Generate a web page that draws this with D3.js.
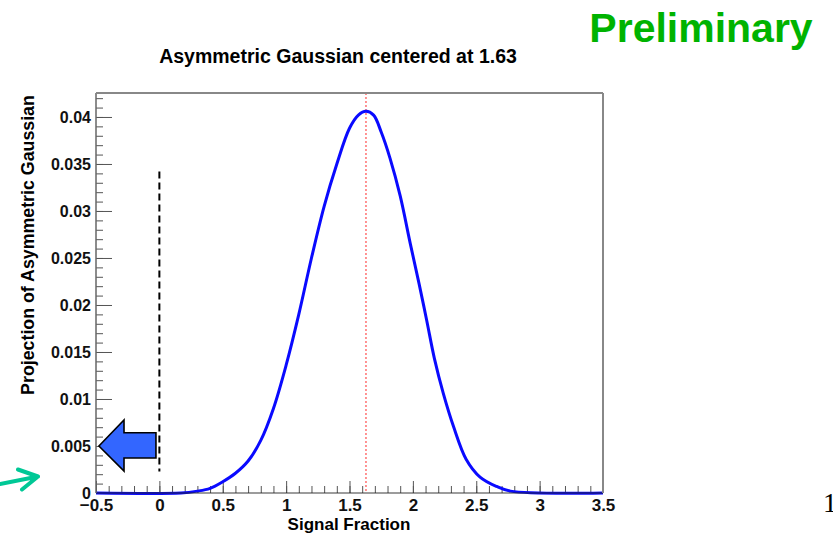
<!DOCTYPE html>
<html lang="en">
<head>
<meta charset="UTF-8" />
<title>Asymmetric Gaussian</title>
<script src="https://cdn.jsdelivr.net/npm/d3@7/dist/d3.min.js"></script>
<style>
  body { margin: 0; background: #fff; }
  text { font-family: "Liberation Sans", Arial, Helvetica, sans-serif; font-weight: bold; }
  .axis path { display: none; }
  .axis line { stroke: #555; }
  .axis text { fill: #111; }
</style>
</head>
<body>
<script>
// signal fraction (x) and projection values
var fraction = [-0.5, 0.17, 0.3, 0.4, 0.5, 0.6, 0.7, 0.8, 0.9, 1.0, 1.1, 1.2, 1.3, 1.4, 1.5,
                1.57, 1.63, 1.69, 1.75, 1.82, 1.9, 1.98, 2.05, 2.11, 2.17, 2.24, 2.32, 2.42,
                2.53, 2.66, 2.77, 3.5];
var projection = [0, 0, 0.0002, 0.0005, 0.0012, 0.0021, 0.0034, 0.0056, 0.009, 0.0136, 0.019,
                  0.025, 0.0305, 0.035, 0.0388, 0.0402, 0.0406, 0.0402, 0.0384, 0.0356, 0.0316,
                  0.0265, 0.0222, 0.0183, 0.0143, 0.0106, 0.0071, 0.0036, 0.0017, 0.0007, 0.0002, 0];

var xTicks = [-0.5, 0, 0.5, 1, 1.5, 2, 2.5, 3, 3.5];
var yTicks = [0, 0.005, 0.01, 0.015, 0.02, 0.025, 0.03, 0.035, 0.04];
var center = 1.63;
var cutLine = [0.0023, 0.0342];   // dashed line at x=0, from/to

var width = 833, height = 533;
var margin = { top: 93, right: 230, bottom: 40, left: 96 };

var svg = d3.select("body").append("svg")
  .attr("width", width)
  .attr("height", height);

svg.append("rect").attr("width", width).attr("height", height).attr("fill", "#fff");

var xScale = d3.scaleLinear()
  .domain([-0.5, 3.5])
  .range([margin.left, width - margin.right]);

var yScale = d3.scaleLinear()
  .domain([0, 0.04255])
  .range([height - margin.bottom, margin.top]);

var x0 = xScale.range()[0], x1 = xScale.range()[1];
var y0 = yScale.range()[0], y1 = yScale.range()[1];

// minor ticks
svg.append("g")
  .attr("class", "axis")
  .attr("transform", "translate(0," + y0 + ")")
  .call(d3.axisBottom(xScale).tickValues(d3.range(-0.5, 3.5001, 0.1)).tickSize(-7).tickFormat(""));
svg.append("g")
  .attr("class", "axis")
  .attr("transform", "translate(" + x0 + ",0)")
  .call(d3.axisLeft(yScale).tickValues(d3.range(0, 0.0425, 0.001)).tickSize(-7).tickFormat(""));

// major ticks + labels
svg.append("g")
  .attr("class", "axis")
  .attr("transform", "translate(0," + y0 + ")")
  .call(d3.axisBottom(xScale).tickValues(xTicks).tickSize(-12).tickPadding(6).tickFormat(d3.format("")))
  .selectAll("text").style("font-size", "17px");
svg.append("g")
  .attr("class", "axis")
  .attr("transform", "translate(" + x0 + ",0)")
  .call(d3.axisLeft(yScale).tickValues(yTicks).tickSize(-16).tickPadding(5).tickFormat(d3.format("")))
  .selectAll("text").style("font-size", "16px");

// red dotted line at the centre
svg.append("line")
  .attr("x1", xScale(center)).attr("x2", xScale(center))
  .attr("y1", y1).attr("y2", y0)
  .attr("stroke", "#ff5a5a")
  .attr("stroke-width", 1.3)
  .attr("stroke-dasharray", "2,2");

// the curve
var line = d3.line()
  .x(function(d, i) { return xScale(fraction[i]); })
  .y(function(d) { return yScale(d); })
  .curve(d3.curveCatmullRom.alpha(0.5));

svg.append("path")
  .datum(projection)
  .attr("d", line)
  .attr("fill", "none")
  .attr("stroke", "#0a0aff")
  .attr("stroke-width", 3);

// frame
svg.append("line").attr("x1", x0).attr("x2", x1).attr("y1", y0).attr("y2", y0)
  .attr("stroke", "#222").attr("stroke-opacity", 0.6).attr("stroke-width", 1.5);
svg.append("line").attr("x1", x0).attr("x2", x0).attr("y1", y0).attr("y2", y1)
  .attr("stroke", "#666").attr("stroke-width", 1.5);
svg.append("line").attr("x1", x0).attr("x2", x1).attr("y1", y1).attr("y2", y1)
  .attr("stroke", "#888").attr("stroke-width", 2);
svg.append("line").attr("x1", x1).attr("x2", x1).attr("y1", y1).attr("y2", y0)
  .attr("stroke", "#888").attr("stroke-width", 2);

// dashed cut line at zero
svg.append("line")
  .attr("x1", xScale(0)).attr("x2", xScale(0))
  .attr("y1", yScale(cutLine[1])).attr("y2", yScale(cutLine[0]))
  .attr("stroke", "#000")
  .attr("stroke-width", 2)
  .attr("stroke-dasharray", "7,4");

// blue block arrow pointing at 0.005
var arrow = [[-0.477, 0.005], [-0.279, 0.00777], [-0.279, 0.00641], [-0.027, 0.00641],
             [-0.027, 0.00372], [-0.279, 0.00372], [-0.279, 0.00234]];
svg.append("polygon")
  .attr("points", arrow.map(function(p) { return xScale(p[0]) + "," + yScale(p[1]); }).join(" "))
  .attr("fill", "#3366ff")
  .attr("stroke", "#000")
  .attr("stroke-width", 1.6)
  .attr("stroke-linejoin", "miter");

// green arrow at the left edge
svg.append("path")
  .attr("d", "M0,484 L38,476.5 M18,469.5 L38,476.5 L22,489.5")
  .attr("fill", "none")
  .attr("stroke", "#00c896")
  .attr("stroke-width", 4)
  .attr("stroke-linecap", "round")
  .attr("stroke-linejoin", "round");

// titles
svg.append("text")
  .attr("x", 338).attr("y", 63)
  .attr("text-anchor", "middle")
  .style("font-size", "19.5px")
  .text("Asymmetric Gaussian centered at 1.63");

svg.append("text")
  .attr("x", 349).attr("y", 530)
  .attr("text-anchor", "middle")
  .style("font-size", "17px")
  .text("Signal Fraction");

svg.append("text")
  .attr("transform", "translate(34,245) rotate(-90)")
  .attr("text-anchor", "middle")
  .style("font-size", "17.8px")
  .text("Projection of Asymmetric Gaussian");

svg.append("text")
  .attr("x", 701).attr("y", 42)
  .attr("text-anchor", "middle")
  .attr("fill", "#00b300")
  .style("font-size", "41px")
  .text("Preliminary");

svg.append("text")
  .attr("x", 823).attr("y", 512)
  .style("font-family", "'Liberation Serif', 'Times New Roman', serif")
  .style("font-weight", "normal")
  .style("font-size", "28px")
  .text("1");
</script>
</body>
</html>
